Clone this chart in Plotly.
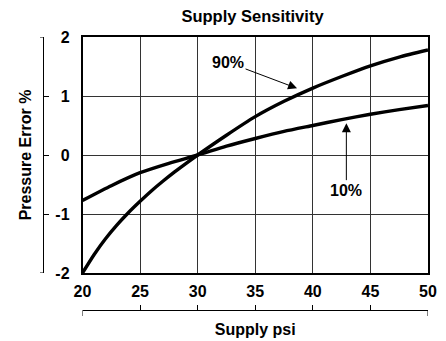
import plotly.graph_objects as go

# Supply pressure (psi) and resulting pressure error (%) at two output levels
supply_90 = [20, 21, 22, 23, 24, 25, 26, 27, 28, 29, 30, 32.5, 35, 37.5, 40, 42.5, 45, 47.5, 50]
error_90 = [-2.0, -1.69, -1.42, -1.185, -0.975, -0.785, -0.605, -0.44, -0.285, -0.14, 0.0,
            0.335, 0.65, 0.91, 1.134, 1.33, 1.511, 1.66, 1.78]
supply_10 = [20, 22.5, 25, 27.5, 30, 32.5, 35, 37.5, 40, 42.5, 45, 47.5, 50]
error_10 = [-0.77, -0.52, -0.30, -0.14, 0.0, 0.15, 0.28, 0.40, 0.50, 0.60, 0.69, 0.77, 0.84]

x_ticks = [20, 25, 30, 35, 40, 45, 50]
y_ticks = [-2, -1, 0, 1, 2]
y_tick_text = ["-2", "-1", "0", "1", "2"]

FONT = "Liberation Sans, Arial, sans-serif"
W, H = 446, 341
ML, MR, MT, MB = 43, 18, 37, 31
plot_w = W - ML - MR
plot_h = H - MT - MB
x_dom0 = 39.5 / plot_w     # main frame starts right of the left ruler
y_dom0 = 37.0 / plot_h     # main frame ends above the bottom ruler

fig = go.Figure()
for xs, ys in ((supply_90, error_90), (supply_10, error_10)):
    fig.add_trace(go.Scatter(
        x=xs, y=ys, mode="lines",
        line=dict(color="black", width=3.4, shape="spline", smoothing=0.6),
        showlegend=False, hoverinfo="skip",
    ))

bold16 = dict(family=FONT, size=16, color="black", weight="bold")

fig.update_layout(
    width=W, height=H,
    margin=dict(l=ML, r=MR, t=MT, b=MB, autoexpand=False),
    paper_bgcolor="white", plot_bgcolor="white",
    title=dict(text="Supply Sensitivity", font=dict(family=FONT, size=16.5, color="black", weight="bold"),
               x=252.5 / W, xref="container", xanchor="center",
               y=1 - 16.5 / H, yref="container", yanchor="middle"),
    xaxis=dict(domain=[x_dom0, 1], range=[20, 50], tickvals=x_ticks, automargin=False,
               showgrid=True, gridcolor="#333", gridwidth=1, zeroline=False,
               showline=True, mirror=True, linecolor="black", linewidth=1.5,
               ticks="", ticklabelstandoff=3, tickfont=bold16, anchor="y"),
    yaxis=dict(domain=[y_dom0, 1], range=[-2, 2], tickvals=y_ticks, ticktext=y_tick_text,
               automargin=False,
               showgrid=True, gridcolor="#333", gridwidth=1, zeroline=False,
               showline=True, mirror=True, linecolor="black", linewidth=1.5,
               ticks="", ticklabelstandoff=8, tickfont=bold16, anchor="x"),
    # detached ruler axes carrying the axis titles
    xaxis2=dict(overlaying="x", anchor="free", position=0, side="bottom", range=[20, 50],
                automargin=False,
                tickvals=x_ticks, ticks="inside", ticklen=5, tickcolor="black", tickwidth=1,
                showticklabels=False, showgrid=False, zeroline=False,
                showline=True, linecolor="black", linewidth=1,
                title=dict(text="Supply psi", font=bold16, standoff=13)),
    yaxis2=dict(overlaying="y", anchor="free", position=0, side="left", range=[-2, 2],
                automargin=False,
                tickvals=y_ticks, ticks="inside", ticklen=5, tickcolor="black", tickwidth=1,
                showticklabels=False, showgrid=False, zeroline=False,
                showline=True, linecolor="black", linewidth=1,
                title=dict(text="Pressure Error %", font=bold16, standoff=6)),
)

# make the rulers visible even without data on them
fig.add_trace(go.Scatter(x=[None], y=[None], xaxis="x2", yaxis="y2", showlegend=False))

# end caps on the rulers
for xv in (20, 50):
    fig.add_shape(type="line", xref="x", yref="paper", x0=xv, x1=xv, y0=0, y1=-6 / plot_h,
                  line=dict(color="black", width=1))
for yv in (-2, 2):
    fig.add_shape(type="line", xref="paper", yref="y", x0=0, x1=-3 / plot_w, y0=yv, y1=yv,
                  line=dict(color="black", width=1))

# curve labels
fig.add_annotation(x=38.63, y=1.13, ax=-69, ay=-26, text="90%", font=bold16,
                   showarrow=True, arrowhead=2, arrowsize=1.8, arrowwidth=1, arrowcolor="black",
                   standoff=0, startstandoff=0)
fig.add_annotation(x=42.91, y=0.54, ax=0, ay=67, text="10%", font=bold16,
                   showarrow=True, arrowhead=2, arrowsize=1.8, arrowwidth=1, arrowcolor="black",
                   standoff=0, startstandoff=0)

fig.write_html("out.html")
